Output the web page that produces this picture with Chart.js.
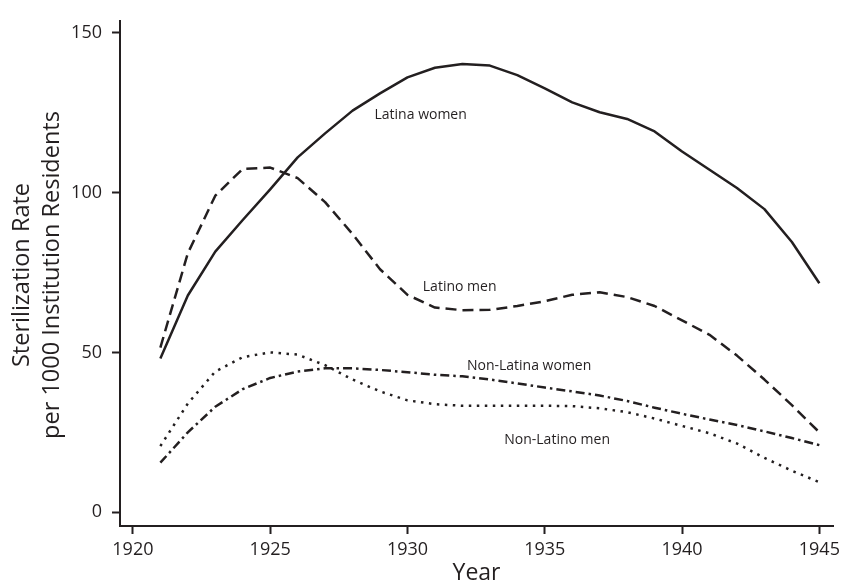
<!DOCTYPE html>
<html>
<head>
<meta charset="utf-8">
<script src="https://cdn.jsdelivr.net/npm/chart.js@4/dist/chart.umd.min.js"></script>
<style>
  html, body { margin: 0; padding: 0; background: #fff; }
  #wrap { width: 845px; height: 585px; position: relative; }
</style>
</head>
<body>
<div id="wrap"><canvas id="chart"></canvas></div>
<script>
// sterilization rates per 1000 institution residents, by year
var years = [1921, 1922, 1923, 1924, 1925, 1926, 1927, 1928, 1929, 1930, 1931, 1932, 1933,
             1934, 1935, 1936, 1937, 1938, 1939, 1940, 1941, 1942, 1943, 1944, 1945];

var latinaWomen = [48.1, 67.8, 81.5, 91.4, 101, 111, 118.5, 125.6, 131, 136, 139, 140.2, 139.7,
                   136.7, 132.6, 128.2, 125.1, 123, 119.1, 112.8, 107.1, 101.4, 94.8, 84.5, 71.6];
var latinoMen = [51.5, 81, 99, 107.4, 107.8, 104.5, 97, 87, 76, 68, 64, 63.2, 63.3,
                 64.5, 66, 68, 68.8, 67.3, 64.5, 60, 55.5, 49, 41.5, 33.5, 25];
var nonLatinaWomen = [15.5, 25, 33, 38.5, 42, 44, 45, 45, 44.5, 43.8, 43, 42.5, 41.5,
                      40.3, 39, 37.8, 36.5, 34.8, 32.7, 30.8, 29, 27.3, 25.3, 23.2, 21];
var nonLatinoMen = [20.7, 34, 44, 48.5, 50, 49.3, 46, 41.5, 37.8, 35, 33.8, 33.3, 33.3,
                    33.3, 33.3, 33.2, 32.5, 31.3, 29.3, 27, 24.7, 21.5, 17, 13, 9.4];

var xTicks = [1920, 1925, 1930, 1935, 1940, 1945];
var yTicks = [0, 50, 100, 150];

// in-plot labels: [text, year, value]
var seriesLabels = [
    ['Latina women', 1930.48, 124.1],
    ['Latino men', 1931.9, 70.4],
    ['Non-Latina women', 1934.43, 45.7],
    ['Non-Latino men', 1935.45, 22.5]
];

var yTitleLines = ['Sterilization Rate', 'per 1000 Institution Residents'];

var FONT = 'Open Sans';
var INK = '#231f20';

function toPoints(vals) {
    return years.map((y, i) => ({ x: y, y: vals[i] }));
}

function makeSet(label, vals, dash) {
    return {
        label: label,
        data: toPoints(vals),
        borderColor: INK,
        borderWidth: 2.5,
        borderDash: dash,
        borderCapStyle: 'butt',
        borderJoinStyle: 'round',
        pointRadius: 0,
        tension: 0,
        fill: false
    };
}

var labelPlugin = {
    id: 'seriesLabels',
    afterDatasetsDraw(chart) {
        var ctx = chart.ctx;
        var xs = chart.scales.x, ys = chart.scales.y;
        ctx.save();
        ctx.font = '14px "' + FONT + '"';
        ctx.fillStyle = INK;
        ctx.textAlign = 'center';
        ctx.textBaseline = 'middle';
        seriesLabels.forEach(l => {
            ctx.fillText(l[0], xs.getPixelForValue(l[1]), ys.getPixelForValue(l[2]));
        });

        // y axis title, two lines rotated
        ctx.translate(0, 275);
        ctx.rotate(-Math.PI / 2);
        ctx.font = '23.5px "' + FONT + '"';
        ctx.fillText(yTitleLines[0], 0, 22);
        ctx.fillText(yTitleLines[1], 0, 52);
        ctx.restore();
    }
};

var ctx = document.getElementById('chart').getContext('2d');
var chart = new Chart(ctx, {
    type: 'line',
    data: {
        datasets: [
            makeSet('Latina women', latinaWomen, []),
            makeSet('Latino men', latinoMen, [11, 6]),
            makeSet('Non-Latina women', nonLatinaWomen, [9, 4, 2.5, 4]),
            makeSet('Non-Latino men', nonLatinoMen, [2.5, 5.5])
        ]
    },
    options: {
        responsive: true,
        maintainAspectRatio: false,
        animation: false,
        layout: { padding: { left: 0, right: 4, top: 14, bottom: 0 } },
        plugins: {
            legend: { display: false },
            tooltip: { enabled: false }
        },
        scales: {
            x: {
                type: 'linear',
                min: 1919.53,
                max: 1945.5,
                afterBuildTicks: s => { s.ticks = xTicks.map(v => ({ value: v })); },
                afterFit: s => { s.height = 59; },
                border: { color: INK, width: 2 },
                grid: { drawOnChartArea: false, drawTicks: true, tickLength: 8, tickColor: INK, tickWidth: 2 },
                ticks: {
                    color: INK,
                    font: { family: FONT, size: 18 },
                    padding: 5,
                    maxRotation: 0,
                    callback: v => String(v)
                },
                title: {
                    display: true,
                    text: 'Year',
                    color: INK,
                    font: { family: FONT, size: 23, lineHeight: 1.0 },
                    padding: { top: 0, bottom: 0 }
                }
            },
            y: {
                min: -4.3,
                max: 153.7,
                afterBuildTicks: s => { s.ticks = yTicks.map(v => ({ value: v })); },
                afterFit: s => { s.width = 120; },
                border: { color: INK, width: 2 },
                grid: { drawOnChartArea: false, drawTicks: true, tickLength: 8, tickColor: INK, tickWidth: 2 },
                ticks: {
                    color: INK,
                    font: { family: FONT, size: 18 },
                    padding: 10
                },
                title: { display: false }
            }
        }
    },
    plugins: [labelPlugin]
});
</script>
</body>
</html>
